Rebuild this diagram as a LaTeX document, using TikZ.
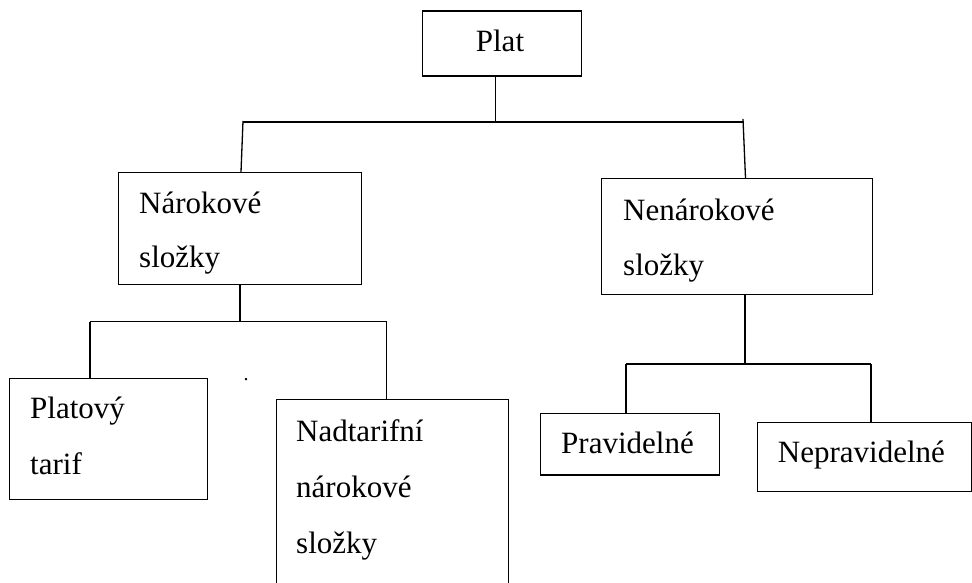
\documentclass[tikz,border=0pt]{standalone}
\usepackage{fontspec}
\setmainfont{Liberation Serif}
\begin{document}
\begin{tikzpicture}[x=1pt,y=-1pt,
  box/.style={draw, line width=1.3pt, inner sep=0pt, anchor=north west},
  lbl/.style={anchor=base west, inner sep=0pt, font=\fontsize{31}{31}\selectfont},
  conn/.style={line width=1.3pt}]
\useasboundingbox (0,0) rectangle (972,583);
% boxes
\node[box, minimum width=159pt, minimum height=65pt] (plat) at (422,10.5) {};
\node[box, minimum width=243pt, minimum height=112pt] (nar) at (118,172) {};
\node[box, minimum width=271pt, minimum height=116pt] (nenar) at (601,178) {};
\node[box, minimum width=198pt, minimum height=121pt] (tarif) at (9,377.7) {};
\node[box, minimum width=232pt, minimum height=220pt] (nadt) at (275.7,399) {};
\node[box, minimum width=179pt, minimum height=61.6pt] (prav) at (540,412.7) {};
\node[box, minimum width=214.3pt, minimum height=69pt] (neprav) at (756.7,421.7) {};
% texts
\node[anchor=base, inner sep=0pt, font=\fontsize{31}{31}\selectfont] (tplat) at (500,52) {Plat};
\node[lbl] (tnar1) at (139,213) {Nárokové};
\node[lbl] (tnar2) at (139,267) {složky};
\node[lbl] (tnenar1) at (623,220) {Nenárokové};
\node[lbl] (tnenar2) at (623,275) {složky};
\node[lbl] (ttarif1) at (30,418) {Platový};
\node[lbl] (ttarif2) at (30,474) {tarif};
\node[lbl] (tnadt1) at (296,441) {Nadtarifní};
\node[lbl] (tnadt2) at (296,497) {nárokové};
\node[lbl] (tnadt3) at (296,553) {složky};
\node[lbl] (tprav) at (561,453) {Pravidelné};
\node[lbl] (tneprav) at (777.7,462.7) {Nepravidelné};
\node[anchor=base, inner sep=0pt, font=\fontsize{20}{20}\selectfont] (dot) at (246,380) {.};
% level 1 connectors
\coordinate (j1) at (495.5,122);
\coordinate (h1l) at (243,122);
\coordinate (h1r) at (743,122);
\draw[conn] (plat.south -| j1) -- (j1);
\draw[conn] (h1l) -- (h1r);
\draw[conn] (243,121) -- (nar.north -| 241,0);
\draw[conn] (743,119) -- (nenar.north -| 745.5,0);
% level 2 left
\coordinate (j2) at (240,321.7);
\coordinate (h2l) at (90,321.7);
\coordinate (h2r) at (386.7,321.7);
\draw[conn] (nar.south -| j2) -- (j2);
\draw[conn] (h2l) -- (h2r);
\draw[conn] (h2l) -- (tarif.north -| h2l);
\draw[conn] (h2r) -- (nadt.north -| h2r);
% level 2 right
\coordinate (j3) at (745,364);
\coordinate (h3l) at (626,364);
\coordinate (h3r) at (871,364);
\draw[conn] (nenar.south -| j3) -- (j3);
\draw[conn] (h3l) -- (h3r);
\draw[conn] (h3l) -- (prav.north -| h3l);
\draw[conn] (h3r) -- (neprav.north -| h3r);
\end{tikzpicture}
\end{document}
